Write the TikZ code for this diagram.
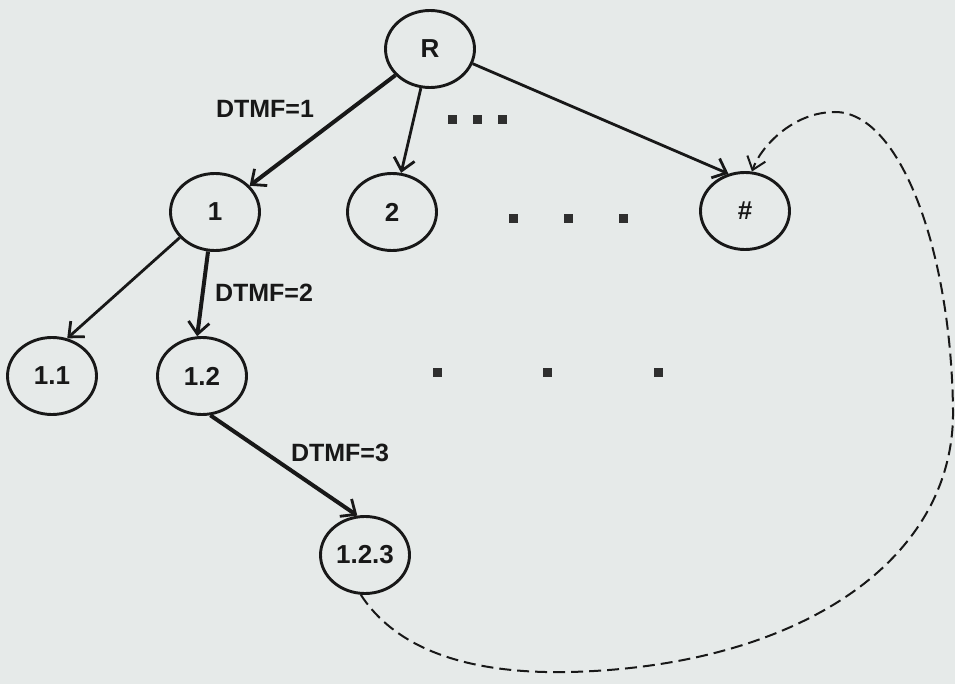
\documentclass[tikz,border=0pt]{standalone}
\usepackage{fontspec}
\setmainfont{Liberation Sans}
\usetikzlibrary{shapes.geometric,arrows.meta}
\definecolor{paper}{RGB}{230,234,233}
\definecolor{ink}{RGB}{24,24,24}
\tikzset{
  state/.style={ellipse, draw=ink, line width=2.9pt, inner sep=0pt,
    minimum width=89pt, minimum height=77pt,
    font=\fontsize{26}{30}\selectfont\bfseries, text=ink},
  edge/.style={draw=ink, line width=2.8pt,
    -{Straight Barb[length=12pt,width=21pt,line width=2.8pt]}},
  bold edge/.style={edge, line width=4pt},
  keylabel/.style={font=\fontsize{25}{29}\selectfont\bfseries, text=ink, inner sep=0pt},
  gapdot/.style={fill=ink!90, minimum size=9pt, inner sep=0pt, draw=none, rectangle},
  jump/.style={draw=ink, line width=2pt, dash pattern=on 12pt off 6pt,
    -{Straight Barb[length=12pt,width=19pt,line width=2pt]}}
}
\begin{document}
\begin{tikzpicture}[x=1pt,y=-1pt]
  \fill[paper] (0,0) rectangle (955,684);
  \useasboundingbox (0,0) rectangle (955,684);

  % tree of menu states
  \node[state] (R)    at (430,49)  {R};
  \node[state] (n1)   at (215,212) {1};
  \node[state] (n2)   at (392,212) {2};
  \node[state] (hash) at (745,211) {\#};
  \node[state] (n11)  at (52,376)  {1.1};
  \node[state] (n12)  at (202,376) {1.2};
  \node[state] (n123) at (365,555) {1.2.3};

  % key presses
  \node[keylabel] (k1) at (265,109) {DTMF=1};
  \node[keylabel] (k2) at (264,293) {DTMF=2};
  \node[keylabel] (k3) at (340,453) {DTMF=3};

  % omitted branches
  \foreach \i/\x/\y in {a/452/120, b/477/120, c/502/120,
                        d/513/219, e/568/219, f/623/219,
                        g/437/372, h/547/372, j/658/372}
    \node[gapdot] (dot\i) at (\x,\y) {};

  % transitions
  \draw[bold edge] (R) -- (n1);
  \draw[edge] (R) -- (n2);
  \draw[edge] (R.-19) -- (hash.114);
  \draw[edge] (n1.216) -- (n11.68);
  \draw[bold edge] (n1.260) -- (n12.97);
  \draw[bold edge] (n12.-78) -- (n123.101);

  % return to the # state
  \draw[jump] (n123.-96)
    .. controls (400,655) and (480,674) .. (570,672)
    .. controls (800,666) and (955,560) .. (953,410)
    .. controls (951,250) and (900,112) .. (835,112)
    .. controls (792,112) and (760,148) .. (hash.80);
\end{tikzpicture}
\end{document}
